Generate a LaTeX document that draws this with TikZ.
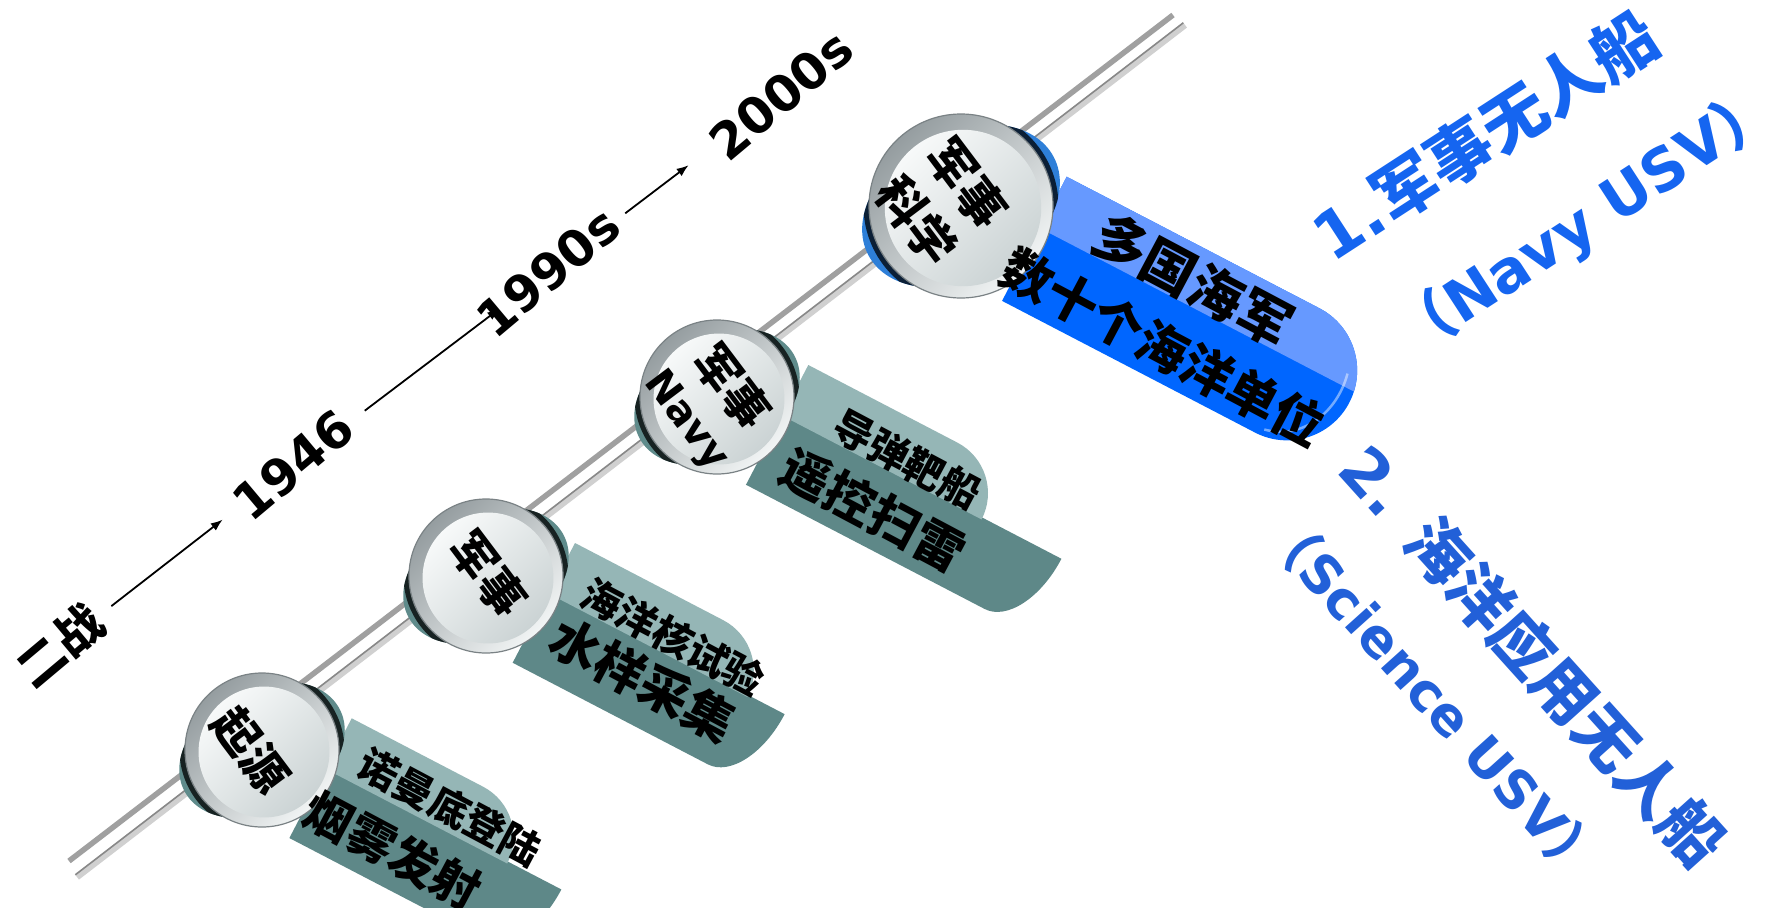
\documentclass[tikz,border=0pt]{standalone}
\usepackage{fontspec}
\setmainfont{DejaVu Sans}
\newfontfamily\cjk{Noto Sans CJK SC}
\usetikzlibrary{arrows.meta}
\definecolor{tealL}{HTML}{95B6B6}
\definecolor{tealD}{HTML}{5E8888}
\definecolor{tealK}{HTML}{5F8B8B}
\definecolor{blueL}{HTML}{6699FF}
\definecolor{blueD}{HTML}{0066FF}
\definecolor{blueK}{HTML}{2E7FD8}
\definecolor{toneA}{HTML}{1565F0}
\definecolor{toneB}{HTML}{2260D8}
\definecolor{railA}{HTML}{A0A0A0}
\definecolor{railB}{HTML}{D0D0D0}
\definecolor{railC}{HTML}{888888}
\definecolor{rimD}{HTML}{959DA0}
\definecolor{rimL}{HTML}{F2F5F5}
\definecolor{rimE}{HTML}{7A8285}
\definecolor{faceL}{HTML}{F7F9F9}
\definecolor{faceD}{HTML}{CBD3D4}
\newcommand\fsz[1]{\fontsize{#1}{#1}\selectfont}
% teal two-band box: #1 corner, #2 dark length, #3 light length
\newcommand\tealbox[3]{%
 \begin{scope}[shift={#1}, rotate=-27.5]
  \fill[tealD] (0,55) -- ({#2},55) .. controls ({#2},{55+0.552*80}) and ({#2-45+0.552*45},135) .. ({#2-45},135) -- (0,135) -- cycle;
  \fill[tealL] (0,0) -- ({#3-57},0) .. controls ({#3-57+0.552*57},0) and ({#3},{57-0.552*57}) .. ({#3},57) -- (0,57) -- cycle;
 \end{scope}}
% glossy knob: #1 centre, #2 radius, #3 backing colour
\newcommand\knob[3]{%
 \begin{scope}[shift={#1}]
  \fill[#3, rotate=28] (0,0) ellipse [x radius={1.14*#2}, y radius={0.8*#2}];
  \begin{scope}
   \clip[rotate=28] (0,0) ellipse [x radius={1.14*#2}, y radius={0.8*#2}];
   \draw[black, opacity=0.75, line width=7pt] (0,0) circle ({#2+2});
  \end{scope}
  \shade[top color=rimD, bottom color=rimL, shading angle=45] (0,0) circle (#2);
  \draw[rimE, line width=1.2pt] (0,0) circle (#2);
  \shade[top color=faceL, bottom color=faceD, shading angle=45] (2,2) circle ({0.85*#2});
 \end{scope}}
\begin{document}
\begin{tikzpicture}[x=1pt,y=-1pt,
  lab/.style={inner sep=0pt, outer sep=0pt},
  arr/.style={-{Latex[length=12pt,width=9pt]}, line width=1.8pt, black},
  tline/.style={lab, rotate=40, font=\bfseries\fsz{50}},
  knobtxt/.style={lab, rotate=-53, align=center},
  boxtxt/.style={lab, rotate=-28},
  usvA/.style={lab, rotate=33, text=toneA},
  usvB/.style={lab, rotate=-48, text=toneB}]
\fill[white] (0,0) rectangle (1771,907);
\useasboundingbox (0,0) rectangle (1771,907);
% rail
\coordinate (ua) at (69,861); \coordinate (ub) at (1173,15);
\coordinate (la) at (77,877); \coordinate (lb) at (1185,25);
\draw[railA, line width=5.5pt] (ua) -- (ub);
\draw[railB, line width=6.5pt] (la) -- (lb);
\draw[railC, line width=1.6pt] ([shift={(-1.7,-2.2)}]la) -- ([shift={(-1.7,-2.2)}]lb);
% boxes
\tealbox{(351.7,718.3)}{265}{205}
\tealbox{(575,543)}{265}{224}
\tealbox{(808.3,365)}{314}{225}
\begin{scope}[shift={(1066.7,176.7)}, rotate=-27.5]
 \fill[blueD] (0,0) -- (285,0) .. controls (323.6,0) and (355,31.4) .. (355,70) .. controls (355,108.6) and (323.6,140) .. (285,140) -- (0,140) -- cycle;
 \begin{scope}
  \clip (0,0) -- (285,0) .. controls (323.6,0) and (355,31.4) .. (355,70) .. controls (355,108.6) and (323.6,140) .. (285,140) -- (0,140) -- cycle;
  \fill[blueL] (0,0) rectangle (360,58);
 \end{scope}
 \draw[white, opacity=0.45, line width=2.5pt] (340,45) .. controls (349,85) and (330,125) .. (292,133);
\end{scope}
% knobs
\knob{(262,750)}{77}{tealK}
\knob{(486,576)}{77}{tealK}
\knob{(717,397)}{77}{tealK}
\knob{(961,206)}{92}{blueK}
% timeline
\node[tline, font=\bfseries\fsz{48}] (t0) at (60,646) {\cjk 二战};
\node[tline] (t1) at (293,465) {1946};
\node[tline] (t2) at (548,272) {1990s};
\node[tline] (t3) at (781,95) {2000s};
\draw[arr, shorten <=65pt, shorten >=89pt] (t0.center) -- (t1.center);
\draw[arr, shorten <=90pt, shorten >=61pt] (t1.center) -- (t2.center);
\draw[arr, shorten <=97pt, shorten >=116pt] (t2.center) -- (t3.center);
% knob labels
\node[knobtxt, font=\bfseries\fsz{46}] (c1) at (251,750) {\cjk 起源};
\node[knobtxt, font=\bfseries\fsz{46}] (c2) at (488,574) {\cjk 军事};
\node[knobtxt, font=\bfseries\fontsize{40}{51}\selectfont] (c3) at (710,403) {{\cjk\fontsize{46}{51}\selectfont 军事}\\Navy};
\node[knobtxt, font=\bfseries\fontsize{48}{63}\selectfont] (c4) at (942,202) {{\cjk 军事}\\{\cjk 科学}};
% box labels
\node[boxtxt, font=\bfseries\fsz{40}] (b1a) at (450,807) {\cjk 诺曼底登陆};
\node[boxtxt, font=\bfseries\fsz{48}] (b1b) at (393,850) {\cjk 烟雾发射};
\node[boxtxt, font=\bfseries\fsz{40}] (b2a) at (673,637) {\cjk 海洋核试验};
\node[boxtxt, font=\bfseries\fsz{50}] (b2b) at (643,680) {\cjk 水样采集};
\node[boxtxt, font=\bfseries\fsz{40}] (b3a) at (907,460) {\cjk 导弹靶船};
\node[boxtxt, font=\bfseries\fsz{50}] (b3b) at (873,510) {\cjk 遥控扫雷};
\node[boxtxt, font=\bfseries\fsz{54}] (b4a) at (1193,280) {\cjk 多国海军};
\node[boxtxt, font=\bfseries\fsz{51}] (b4b) at (1163,347) {\cjk 数十个海洋单位};
% USV labels
\node[usvA, font=\bfseries\fsz{65}] (r1a) at (1485,136) {1.{\cjk 军事无人船}};
\node[usvA, font=\bfseries\fsz{59}] (r1b) at (1586,222) {{\cjk （}Navy USV{\cjk ）}};
\node[usvB, font=\bfseries\fsz{63}] (r2a) at (1533,655) {2. {\cjk 海洋应用无人船}};
\node[usvB, font=\bfseries\fsz{53}] (r2b) at (1434,697) {{\cjk （}Science USV{\cjk ）}};
\end{tikzpicture}
\end{document}
